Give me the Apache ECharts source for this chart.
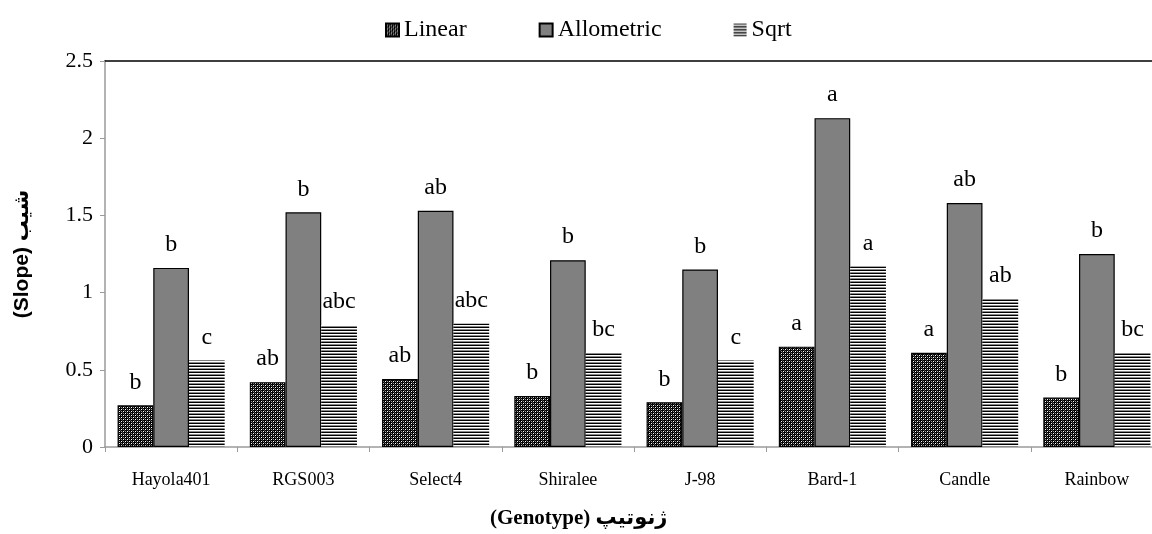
<!DOCTYPE html>
<html>
<head>
<meta charset="utf-8">
<script src="https://cdn.jsdelivr.net/npm/echarts@6/dist/echarts.min.js"></script>
<style>html,body{margin:0;padding:0;background:#fff;overflow:hidden;width:1152px;height:534px}#c{width:1163px;height:534px}</style>
</head>
<body>
<div id="c"></div>
<script>
// ---- data ----
const categories = ['Hayola401', 'RGS003', 'Select4', 'Shiralee', 'J-98', 'Bard-1', 'Candle', 'Rainbow'];
const linearValues = [0.27, 0.42, 0.44, 0.33, 0.29, 0.65, 0.61, 0.32];
const allometricValues = [1.16, 1.52, 1.53, 1.21, 1.15, 2.13, 1.58, 1.25];
const sqrtValues = [0.56, 0.79, 0.80, 0.61, 0.56, 1.17, 0.96, 0.61];
const linearLetters = ['b', 'ab', 'ab', 'b', 'b', 'a', 'a', 'b'];
const allometricLetters = ['b', 'b', 'ab', 'b', 'b', 'a', 'ab', 'b'];
const sqrtLetters = ['c', 'abc', 'abc', 'bc', 'c', 'a', 'ab', 'bc'];
const yTicks = [0, 0.5, 1, 1.5, 2, 2.5];
const seriesNames = ['Linear', 'Allometric', 'Sqrt'];
const xTitle = '(Genotype) ژنوتیپ';
const yTitle = '(Slope) شیب';

// ---- patterns ----
function makeLinearPattern() {
  const c = document.createElement('canvas');
  c.width = 4; c.height = 4;
  const g = c.getContext('2d');
  g.fillStyle = '#000'; g.fillRect(0, 0, 4, 4);
  g.fillStyle = '#fff'; g.fillRect(1, 1, 1, 1); g.fillRect(3, 3, 1, 1);
  g.fillStyle = '#9a9a9a'; g.fillRect(1, 3, 1, 1); g.fillRect(3, 1, 1, 1);
  g.fillStyle = '#444'; g.fillRect(0, 2, 1, 1); g.fillRect(2, 0, 1, 1);
  return c;
}
function makeSqrtPattern() {
  const c = document.createElement('canvas');
  c.width = 4; c.height = 3;
  const g = c.getContext('2d');
  g.fillStyle = '#000000'; g.fillRect(0, 0, 4, 1);
  g.fillStyle = '#ffffff'; g.fillRect(0, 1, 4, 1);
  g.fillStyle = '#8a8a8a'; g.fillRect(0, 2, 4, 1);
  return c;
}
const linearFill = { image: makeLinearPattern(), repeat: 'repeat' };
const sqrtFill = { image: makeSqrtPattern(), repeat: 'repeat' };

const serif = "'Liberation Serif', 'Times New Roman', serif";

function letterLabel(letters) {
  return {
    show: true,
    position: 'top',
    distance: 11,
    fontFamily: serif,
    fontSize: 24,
    color: '#000',
    formatter: p => letters[p.dataIndex]
  };
}

const chart = echarts.init(document.getElementById('c'), null, { renderer: 'canvas' });
chart.setOption({
  animation: false,
  backgroundColor: '#fff',
  textStyle: { fontFamily: serif },
  legend: {
    top: 13,
    left: 380,
    itemWidth: 13,
    itemHeight: 13,
    itemGap: 72,
    icon: 'rect',
    textStyle: { fontFamily: serif, fontSize: 24, color: '#000' },
    data: seriesNames
  },
  graphic: [{
    type: 'text',
    left: 490,
    top: 508,
    style: {
      text: xTitle,
      font: "bold 21px 'Liberation Serif', 'DejaVu Sans', serif",
      fill: '#000'
    }
  }],
  grid: { left: 105, top: 61, right: 0, bottom: 87, containLabel: false },
  xAxis: [{
    type: 'category',
    data: categories,
    boundaryGap: true,
    axisLine: { lineStyle: { color: '#9a9a9a', width: 1.5 } },
    axisTick: { show: true, alignWithLabel: false, length: 5, lineStyle: { color: '#9a9a9a' } },
    axisLabel: { fontFamily: serif, fontSize: 18, color: '#000', margin: 24 }
  }, {
    type: 'category',
    data: categories,
    position: 'top',
    axisLine: { show: true, lineStyle: { color: '#000', width: 1.5 } },
    axisTick: { show: false },
    axisLabel: { show: false }
  }],
  yAxis: {
    type: 'value',
    min: yTicks[0],
    max: yTicks[yTicks.length - 1],
    interval: 0.5,
    splitLine: { show: false },
    axisLine: { show: true, lineStyle: { color: '#9a9a9a', width: 1.5 } },
    axisTick: { show: true, length: 5, lineStyle: { color: '#9a9a9a' } },
    axisLabel: { fontFamily: serif, fontSize: 22, color: '#000', margin: 12 },
    name: yTitle,
    nameLocation: 'middle',
    nameGap: 72,
    nameRotate: 90,
    nameTextStyle: { fontFamily: "'Liberation Sans', 'DejaVu Sans', sans-serif", fontSize: 21, fontWeight: 'bold', color: '#000' }
  },
  series: [{
    name: seriesNames[0],
    type: 'bar',
    data: linearValues,
    barGap: '0%',
    barCategoryGap: '19%',
    itemStyle: { color: linearFill, borderColor: '#000', borderWidth: 1.2 },
    label: letterLabel(linearLetters)
  }, {
    name: seriesNames[1],
    type: 'bar',
    data: allometricValues,
    barGap: '0%',
    barCategoryGap: '19%',
    itemStyle: { color: '#808080', borderColor: '#000', borderWidth: 1.2 },
    label: letterLabel(allometricLetters)
  }, {
    name: seriesNames[2],
    type: 'bar',
    data: sqrtValues,
    barGap: '0%',
    barCategoryGap: '19%',
    itemStyle: { color: sqrtFill, borderWidth: 0 },
    label: letterLabel(sqrtLetters)
  }]
});
</script>
</body>
</html>
